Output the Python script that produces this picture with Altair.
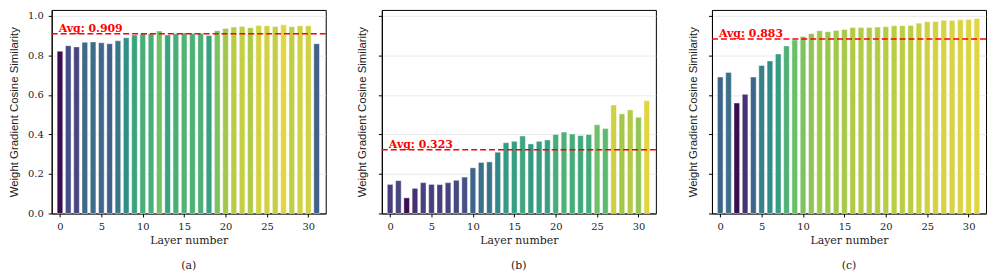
import altair as alt
import pandas as pd

layers = list(range(32))

vals_a = [0.821, 0.849, 0.843, 0.866, 0.868, 0.864, 0.859, 0.874, 0.889, 0.903,
          0.910, 0.910, 0.923, 0.903, 0.910, 0.913, 0.911, 0.911, 0.901, 0.925,
          0.936, 0.943, 0.946, 0.940, 0.951, 0.950, 0.946, 0.955, 0.945, 0.950,
          0.950, 0.859]
vals_b = [0.147, 0.166, 0.079, 0.127, 0.156, 0.147, 0.146, 0.156, 0.168, 0.184,
          0.231, 0.258, 0.261, 0.310, 0.358, 0.365, 0.392, 0.352, 0.365, 0.372,
          0.400, 0.412, 0.402, 0.394, 0.399, 0.449, 0.430, 0.549, 0.504, 0.524,
          0.487, 0.571]
vals_c = [0.690, 0.714, 0.559, 0.603, 0.690, 0.749, 0.772, 0.807, 0.848, 0.878,
          0.896, 0.910, 0.925, 0.920, 0.926, 0.931, 0.941, 0.941, 0.941, 0.943,
          0.945, 0.950, 0.950, 0.951, 0.963, 0.970, 0.972, 0.978, 0.977, 0.980,
          0.982, 0.987]
averages = [0.909, 0.323, 0.883]
captions = ["(a)", "(b)", "(c)"]
x_ticks = [0, 5, 10, 15, 20, 25, 30]
y_ticks = [0.0, 0.2, 0.4, 0.6, 0.8, 1.0]

SERIF = "DejaVu Serif"
SANS = "Liberation Sans"
X_DOMAIN = [-1.0, 32.1]
Y_DOMAIN = [0.0, 1.03]
# muted viridis ramp (as the colours appear in the reference)
PALETTE = ["#3b0f4f", "#4a3a7c", "#425a8a", "#3a7289", "#2f8e88",
           "#3aa67e", "#6bc16a", "#a9c945", "#e2d542"]


def make_axes(show_labels):
    common = dict(domainColor="black", tickColor="black", tickSize=3.5,
                  labelFont=SERIF, labelFontSize=10, labelColor="#222",
                  labelPadding=5)
    xaxis = alt.Axis(values=x_ticks, title="Layer number", grid=False, format="d",
                     titleFont=SERIF, titleFontSize=11, titleFontWeight="normal",
                     titleColor="#222", titlePadding=3, **common)
    yaxis = alt.Axis(values=y_ticks, format=".1f", labels=show_labels,
                     title="Weight Gradient Cosine Similarity", grid=True,
                     gridColor="#e6e6e6", gridWidth=0.8,
                     titleFont=SANS, titleFontSize=11.5, titleFontWeight="normal",
                     titleColor="#222", titlePadding=8 if show_labels else 10,
                     **common)
    return xaxis, yaxis


def panel(vals, avg, caption, show_labels):
    df = pd.DataFrame({"layer": layers, "value": vals})
    xscale = alt.Scale(domain=X_DOMAIN, nice=False, zero=False)
    yscale = alt.Scale(domain=Y_DOMAIN, nice=False)
    xaxis, yaxis = make_axes(show_labels)
    bars = alt.Chart(df).transform_calculate(
        x0="datum.layer - 0.34", x1="datum.layer + 0.34", base="0"
    ).mark_bar(stroke="white", strokeWidth=0.6, strokeOpacity=0.7).encode(
        x=alt.X("x0:Q", scale=xscale, axis=xaxis),
        x2="x1:Q",
        y=alt.Y("value:Q", scale=yscale, axis=yaxis),
        y2="base:Q",
        color=alt.Color("value:Q",
                        scale=alt.Scale(range=PALETTE, interpolate="rgb",
                                        domain=[min(vals), max(vals)]),
                        legend=None),
    )
    avg_df = pd.DataFrame({"avg": [avg], "label": [f"Avg: {avg:.3f}"], "lx": [-0.15]})
    rule = alt.Chart(avg_df).mark_rule(color="red", strokeDash=[6, 3], strokeWidth=1.5).encode(
        y=alt.Y("avg:Q", scale=yscale, axis=yaxis)
    )
    text = alt.Chart(avg_df).mark_text(
        align="left", baseline="alphabetic", dy=-2, color="red", font=SERIF,
        fontWeight="bold", fontSize=11
    ).encode(
        x=alt.X("lx:Q", scale=xscale, axis=xaxis),
        y=alt.Y("avg:Q", scale=yscale, axis=yaxis),
        text="label:N",
    )
    return alt.layer(bars, rule, text).properties(
        width=276, height=205,
        title=alt.TitleParams(caption, orient="bottom", offset=14, fontSize=11,
                              font=SERIF, fontWeight="normal", anchor="middle",
                              color="#222"),
    )


chart = alt.hconcat(
    panel(vals_a, averages[0], captions[0], True),
    panel(vals_b, averages[1], captions[1], False),
    panel(vals_c, averages[2], captions[2], False),
    spacing=28.5,
).resolve_scale(
    color="independent", x="independent", y="independent"
).configure_view(
    stroke="black", strokeWidth=1
).properties(background="white", padding=0)

chart.save("out.html", embed_options={"renderer": "svg", "actions": False})
